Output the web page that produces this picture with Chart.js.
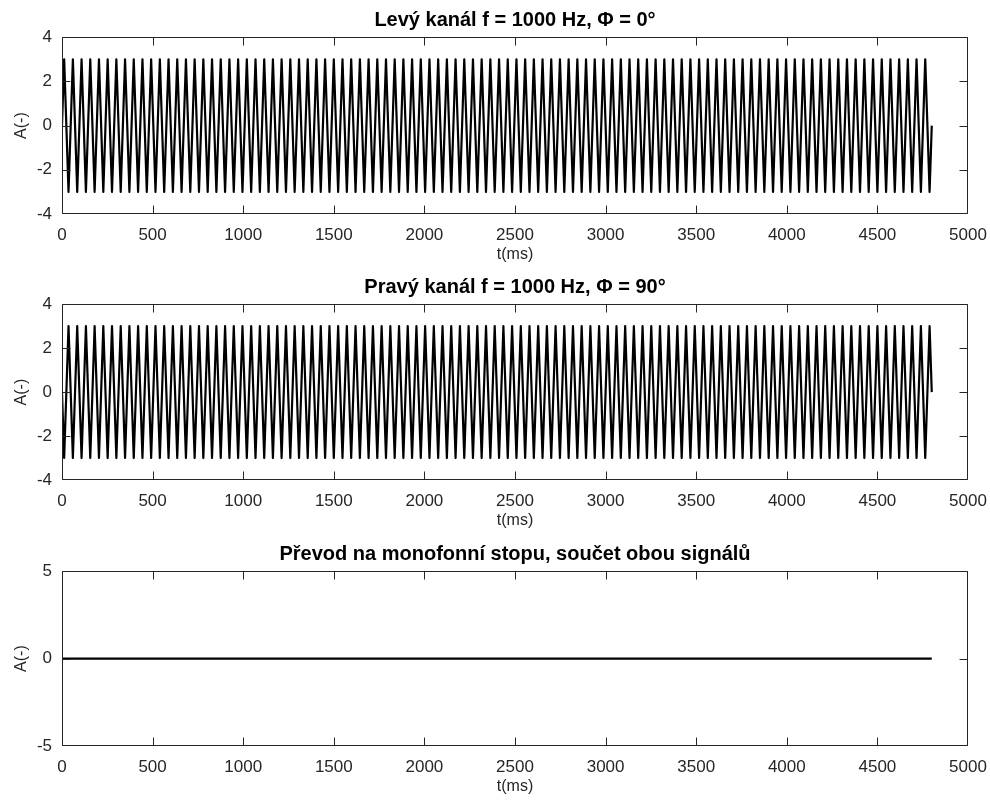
<!DOCTYPE html>
<html lang="cs">
<head>
<meta charset="UTF-8">
<title>Levý a pravý kanál, monofonní součet</title>
<script src="https://cdn.jsdelivr.net/npm/chart.js@4/dist/chart.umd.min.js"></script>
<style>
  body { margin: 0; background: #fff; }
  canvas { position: absolute; left: 0; }
</style>
</head>
<body>
<canvas id="levy" width="990" height="268" style="top:0px"></canvas>
<canvas id="pravy" width="990" height="266" style="top:268px"></canvas>
<canvas id="mono" width="990" height="266" style="top:534px"></canvas>
<script>
// vertex times of the sampled sine (ms), shared by both channels
const vertexMs = [0,
  12,36,60,84,108,132,156,180,204,228,
  252,276,300,324,348,372,396,420,444,468,
  492,516,540,564,588,612,636,660,684,708,
  732,756,780,804,828,852,876,900,924,948,
  972,996,1020,1044,1068,1092,1116,1140,1164,1188,
  1212,1236,1260,1284,1308,1332,1356,1380,1404,1428,
  1452,1476,1500,1524,1548,1572,1596,1620,1644,1668,
  1692,1716,1740,1764,1788,1812,1836,1860,1884,1908,
  1932,1956,1980,2004,2028,2052,2076,2100,2124,2148,
  2172,2196,2220,2244,2268,2292,2316,2340,2364,2388,
  2412,2436,2460,2484,2508,2532,2556,2580,2604,2628,
  2652,2676,2700,2724,2748,2772,2796,2820,2844,2868,
  2892,2916,2940,2964,2988,3012,3036,3060,3084,3108,
  3132,3156,3180,3204,3228,3252,3276,3300,3324,3348,
  3372,3396,3420,3444,3468,3492,3516,3540,3564,3588,
  3612,3636,3660,3684,3708,3732,3756,3780,3804,3828,
  3852,3876,3900,3924,3948,3972,3996,4020,4044,4068,
  4092,4116,4140,4164,4188,4212,4236,4260,4284,4308,
  4332,4356,4380,4404,4428,4452,4476,4500,4524,4548,
  4572,4596,4620,4644,4668,4692,4716,4740,4764,4788,
  4800];

const leftA = [0,
  3,-3,3,-3,3,-3,3,-3,3,-3, 3,-3,3,-3,3,-3,3,-3,3,-3,
  3,-3,3,-3,3,-3,3,-3,3,-3, 3,-3,3,-3,3,-3,3,-3,3,-3,
  3,-3,3,-3,3,-3,3,-3,3,-3, 3,-3,3,-3,3,-3,3,-3,3,-3,
  3,-3,3,-3,3,-3,3,-3,3,-3, 3,-3,3,-3,3,-3,3,-3,3,-3,
  3,-3,3,-3,3,-3,3,-3,3,-3, 3,-3,3,-3,3,-3,3,-3,3,-3,
  3,-3,3,-3,3,-3,3,-3,3,-3, 3,-3,3,-3,3,-3,3,-3,3,-3,
  3,-3,3,-3,3,-3,3,-3,3,-3, 3,-3,3,-3,3,-3,3,-3,3,-3,
  3,-3,3,-3,3,-3,3,-3,3,-3, 3,-3,3,-3,3,-3,3,-3,3,-3,
  3,-3,3,-3,3,-3,3,-3,3,-3, 3,-3,3,-3,3,-3,3,-3,3,-3,
  3,-3,3,-3,3,-3,3,-3,3,-3, 3,-3,3,-3,3,-3,3,-3,3,-3,
  0];

const rightA = [0,
  -3,3,-3,3,-3,3,-3,3,-3,3, -3,3,-3,3,-3,3,-3,3,-3,3,
  -3,3,-3,3,-3,3,-3,3,-3,3, -3,3,-3,3,-3,3,-3,3,-3,3,
  -3,3,-3,3,-3,3,-3,3,-3,3, -3,3,-3,3,-3,3,-3,3,-3,3,
  -3,3,-3,3,-3,3,-3,3,-3,3, -3,3,-3,3,-3,3,-3,3,-3,3,
  -3,3,-3,3,-3,3,-3,3,-3,3, -3,3,-3,3,-3,3,-3,3,-3,3,
  -3,3,-3,3,-3,3,-3,3,-3,3, -3,3,-3,3,-3,3,-3,3,-3,3,
  -3,3,-3,3,-3,3,-3,3,-3,3, -3,3,-3,3,-3,3,-3,3,-3,3,
  -3,3,-3,3,-3,3,-3,3,-3,3, -3,3,-3,3,-3,3,-3,3,-3,3,
  -3,3,-3,3,-3,3,-3,3,-3,3, -3,3,-3,3,-3,3,-3,3,-3,3,
  -3,3,-3,3,-3,3,-3,3,-3,3, -3,3,-3,3,-3,3,-3,3,-3,3,
  0];

// mono sum: left + right cancel out
const monoMs = [0, 4800];
const monoA = [0, 0];

const xTicks = [0, 500, 1000, 1500, 2000, 2500, 3000, 3500, 4000, 4500, 5000];
const yTicksLR = [-4, -2, 0, 2, 4];
const yTicksMono = [-5, 0, 5];

const AXIS = '#262626';
const FONT = "'Liberation Sans', Arial, Helvetica, sans-serif";
const TICK_LEN = 8;

const clamp = (v, lo, hi) => Math.min(Math.max(v, lo), hi);

// MATLAB-like box with inward ticks on all four sides
const boxFrame = {
  id: 'boxFrame',
  afterDatasetsDraw(chart) {
    const { ctx, chartArea: a, scales: { x, y } } = chart;
    const L = Math.round(a.left) + 0.5, R = Math.round(a.right) - 0.5;
    const T = Math.round(a.top) + 0.5, B = Math.round(a.bottom) - 0.5;
    ctx.save();
    ctx.strokeStyle = AXIS;
    ctx.lineWidth = 1;
    ctx.beginPath();
    x.ticks.forEach(t => {
      const px = clamp(Math.round(x.getPixelForValue(t.value)) + 0.5, L, R);
      ctx.moveTo(px, B); ctx.lineTo(px, B - TICK_LEN);
      ctx.moveTo(px, T); ctx.lineTo(px, T + TICK_LEN);
    });
    y.ticks.forEach(t => {
      const py = clamp(Math.round(y.getPixelForValue(t.value)) + 0.5, T, B);
      ctx.moveTo(L, py); ctx.lineTo(L + TICK_LEN, py);
      ctx.moveTo(R, py); ctx.lineTo(R - TICK_LEN, py);
    });
    ctx.rect(L, T, R - L, B - T);
    ctx.stroke();
    ctx.restore();
  }
};

function panel(id, title, times, values, yTicks, titleTop) {
  return new Chart(document.getElementById(id), {
    type: 'line',
    data: {
      datasets: [{
        data: times.map((t, i) => ({ x: t, y: values[i] })),
        borderColor: '#000',
        borderWidth: 2.2,
        borderJoinStyle: 'round',
        pointRadius: 0,
        tension: 0,
        fill: false
      }]
    },
    options: {
      responsive: false,
      animation: false,
      events: [],
      layout: { padding: { left: 0, right: 22, top: 0, bottom: 0 } },
      plugins: {
        legend: { display: false },
        tooltip: { enabled: false },
        title: {
          display: true,
          text: title,
          fullSize: false,
          color: '#000',
          font: { family: FONT, size: 20, weight: 'bold', lineHeight: 1.2 },
          padding: { top: titleTop, bottom: 5 }
        }
      },
      scales: {
        x: {
          type: 'linear',
          min: xTicks[0],
          max: xTicks[xTicks.length - 1],
          afterBuildTicks: s => { s.ticks = xTicks.map(v => ({ value: v })); },
          // fixed height; label overhang is covered by the right layout padding
          afterFit: s => { s.height = 54; s.paddingLeft = 0; s.paddingRight = 0; },
          grid: { display: false, drawTicks: false },
          border: { display: false },
          ticks: { color: AXIS, padding: 11, maxRotation: 0, callback: v => String(v), font: { family: FONT, size: 17 } },
          title: { display: true, text: 't(ms)', color: AXIS, padding: { top: 0, bottom: 4 }, font: { family: FONT, size: 16 } }
        },
        y: {
          min: yTicks[0],
          max: yTicks[yTicks.length - 1],
          afterBuildTicks: s => { s.ticks = yTicks.map(v => ({ value: v })); },
          afterFit: s => { s.width = 62; },
          grid: { display: false, drawTicks: false },
          border: { display: false },
          ticks: { color: AXIS, padding: 10, callback: v => String(v), font: { family: FONT, size: 17 } },
          title: { display: true, text: 'A(-)', color: AXIS, padding: { top: 12, bottom: 0 }, font: { family: FONT, size: 16 } }
        }
      }
    },
    plugins: [boxFrame]
  });
}

panel('levy', 'Levý kanál f = 1000 Hz, Φ = 0°', vertexMs, leftA, yTicksLR, 8.2);
panel('pravy', 'Pravý kanál f = 1000 Hz, Φ = 90°', vertexMs, rightA, yTicksLR, 7.2);
panel('mono', 'Převod na monofonní stopu, součet obou signálů', monoMs, monoA, yTicksMono, 8.2);
</script>
</body>
</html>
